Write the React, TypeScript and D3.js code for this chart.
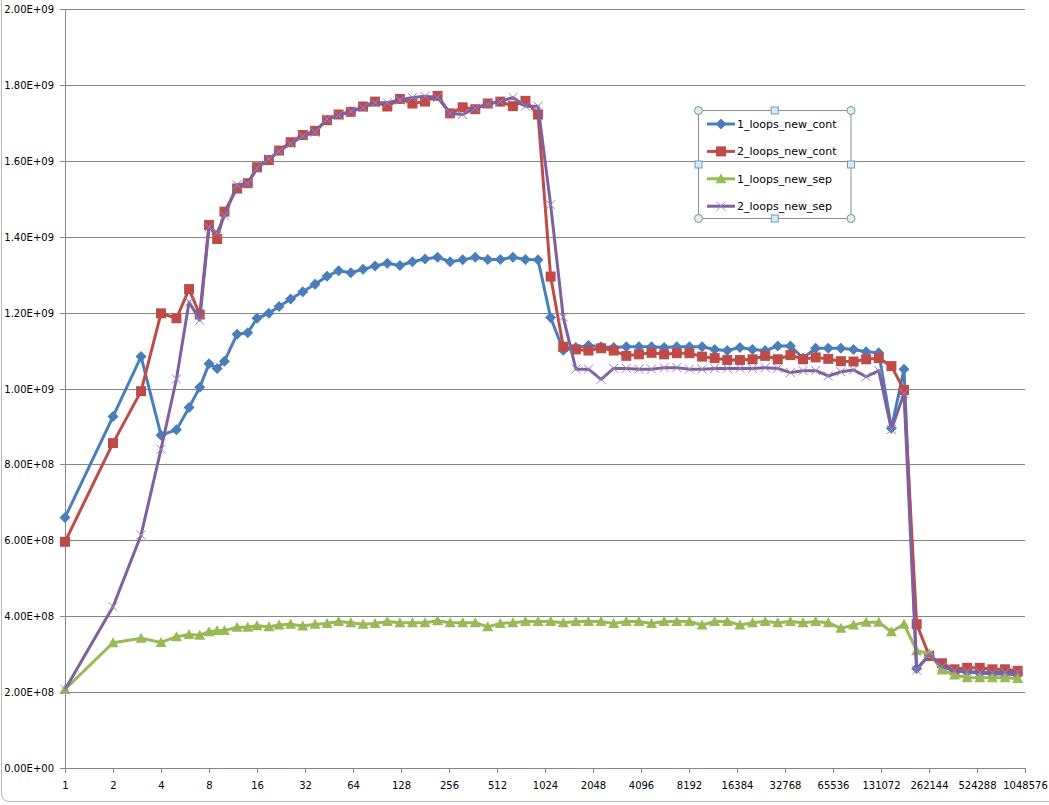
import React, { useRef, useEffect } from "react";
import * as d3 from "d3";

// block sizes (x), each step = max(prev + 1, floor(prev * 1.2))
const sizes = [
  1, 2, 3, 4, 5, 6, 7, 8, 9, 10, 12, 14, 16, 19, 22, 26, 31, 37, 44, 52, 62, 74,
  88, 105, 126, 151, 181, 217, 260, 312, 374, 448, 537, 644, 772, 926, 1111,
  1333, 1599, 1918, 2301, 2761, 3313, 3975, 4770, 5724, 6868, 8241, 9889,
  11866, 14239, 17086, 20503, 24603, 29523, 35427, 42512, 51014, 61216, 73459,
  88150, 105780, 126936, 152323, 182787, 219344, 263212, 315854, 379024,
  454828, 545793, 654951, 785941, 943129,
];

// values in millions
const loops1Cont = [
  660, 926, 1084, 877, 891, 950, 1003, 1065, 1053, 1072, 1143, 1147, 1185,
  1198, 1216, 1236, 1255, 1275, 1296, 1310, 1305, 1314, 1323, 1330, 1324, 1334,
  1341, 1346, 1334, 1339, 1346, 1340, 1340, 1346, 1340, 1339, 1187, 1101, 1108,
  1113, 1110, 1108, 1110, 1110, 1110, 1108, 1110, 1110, 1110, 1103, 1100, 1108,
  1103, 1100, 1112, 1112, 1080, 1106, 1106, 1106, 1103, 1097, 1094, 895, 1051,
  262, 296, 268, 257, 252, 250, 248, 248, 246,
];
const loops2Cont = [
  596, 856, 993, 1198, 1185, 1262, 1195, 1431, 1394, 1466, 1527, 1541, 1583,
  1602, 1627, 1649, 1668, 1679, 1707, 1722, 1729, 1743, 1756, 1743, 1763, 1751,
  1756, 1771, 1725, 1741, 1736, 1751, 1756, 1744, 1758, 1722, 1295, 1110, 1103,
  1100, 1106, 1100, 1086, 1090, 1094, 1090, 1093, 1093, 1084, 1080, 1075, 1075,
  1077, 1086, 1077, 1088, 1077, 1082, 1078, 1072, 1071, 1077, 1080, 1059, 996,
  379, 295, 276, 260, 264, 264, 260, 260, 256,
];
const loops1Sep = [
  207, 330, 342, 331, 346, 352, 350, 359, 362, 362, 371, 371, 375, 372, 377,
  379, 374, 379, 381, 386, 383, 379, 381, 386, 383, 383, 383, 388, 383, 383,
  383, 372, 381, 383, 386, 386, 386, 383, 386, 386, 386, 381, 386, 386, 381,
  386, 386, 386, 377, 386, 386, 377, 383, 386, 383, 386, 383, 386, 383, 368,
  377, 384, 384, 359, 379, 309, 302, 258, 245, 238, 238, 238, 238, 236,
];
const loops2Sep = [
  207, 425, 614, 840, 1025, 1228, 1180, 1425, 1410, 1455, 1537, 1540, 1580,
  1605, 1625, 1645, 1665, 1675, 1710, 1720, 1730, 1740, 1753, 1753, 1760, 1767,
  1770, 1767, 1725, 1722, 1739, 1749, 1756, 1767, 1744, 1744, 1484, 1188, 1051,
  1051, 1024, 1053, 1053, 1051, 1051, 1055, 1055, 1051, 1051, 1053, 1053, 1053,
  1053, 1055, 1053, 1042, 1047, 1047, 1033, 1044, 1049, 1031, 1047, 892, 987,
  258, 300, 267, 256, 254, 252, 252, 252, 252,
];

const seriesNames = [
  "1_loops_new_cont",
  "2_loops_new_cont",
  "1_loops_new_sep",
  "2_loops_new_sep",
];
const xTicks = [
  1, 2, 4, 8, 16, 32, 64, 128, 256, 512, 1024, 2048, 4096, 8192, 16384, 32768,
  65536, 131072, 262144, 524288, 1048576,
];
const yTicks = [0, 2e8, 4e8, 6e8, 8e8, 1e9, 1.2e9, 1.4e9, 1.6e9, 1.8e9, 2e9];

const markerPath = {
  diamond: "M0,-5.5L5.5,0L0,5.5L-5.5,0Z",
  square: "M-5,-5H5V5H-5Z",
  triangle: "M0,-5.5L5.5,4.5L-5.5,4.5Z",
  cross: "M-4.5,-4.5L4.5,4.5M-4.5,4.5L4.5,-4.5",
};

const fmtSci = (v) => {
  if (v === 0) return "0.00E+00";
  const e = Math.floor(Math.log10(v));
  const m = v / Math.pow(10, e);
  return `${m.toFixed(2)}E+${String(e).padStart(2, "0")}`;
};

const App = () => {
  const wrapper = useRef(null);
  const width = 1049;
  const height = 805;

  useEffect(() => {
    const root = d3.select(wrapper.current);
    root.selectAll("*").remove();

    const svg = root
      .append("svg")
      .attr("width", width)
      .attr("height", height)
      .style("display", "block")
      .style("font-family", "'DejaVu Sans', Verdana, sans-serif");

    svg.append("rect").attr("width", width).attr("height", height).attr("fill", "#fff");

    // chart area border (left + bottom, rounded corner)
    svg
      .append("path")
      .attr("d", "M1.5,-5V793Q1.5,801.5 10,801.5H1060")
      .attr("fill", "none")
      .attr("stroke", "#b8b8b8");

    const x = d3.scaleLog().base(2).domain([1, 1048576]).range([65, 1025]);
    const y = d3.scaleLinear().domain([0, 2e9]).range([768, 9]);

    // gridlines + y labels
    const gy = svg.append("g");
    yTicks.forEach((t) => {
      const yy = Math.round(y(t)) + 0.5;
      gy.append("line")
        .attr("x1", 60)
        .attr("x2", 1025)
        .attr("y1", yy)
        .attr("y2", yy)
        .attr("stroke", "#868686");
      gy.append("text")
        .attr("x", 54)
        .attr("y", yy)
        .attr("dy", "0.35em")
        .attr("text-anchor", "end")
        .attr("font-size", 10)
        .attr("fill", "#000")
        .text(fmtSci(t));
    });

    // y axis line
    svg
      .append("line")
      .attr("x1", 65.5)
      .attr("x2", 65.5)
      .attr("y1", Math.round(y(2e9)))
      .attr("y2", Math.round(y(0)) + 1)
      .attr("stroke", "#868686");

    // x ticks + labels
    const gx = svg.append("g");
    xTicks.forEach((t) => {
      const xx = Math.round(x(t)) + 0.5;
      gx.append("line")
        .attr("x1", xx)
        .attr("x2", xx)
        .attr("y1", 768)
        .attr("y2", 773)
        .attr("stroke", "#868686");
      gx.append("text")
        .attr("x", xx)
        .attr("y", 789)
        .attr("text-anchor", "middle")
        .attr("font-size", 10)
        .attr("fill", "#000")
        .text(t);
    });

    const series = [
      { values: loops1Cont, color: "#4a7ebb", marker: "diamond" },
      { values: loops2Cont, color: "#be4b48", marker: "square" },
      { values: loops1Sep, color: "#98b954", marker: "triangle" },
      { values: loops2Sep, color: "#7d60a0", marker: "cross" },
    ];

    const line = d3
      .line()
      .x((d) => x(d[0]))
      .y((d) => y(d[1] * 1e6));

    series.forEach((s) => {
      const pts = sizes.map((sz, i) => [sz, s.values[i]]);
      const g = svg.append("g");
      g.append("path")
        .attr("d", line(pts))
        .attr("fill", "none")
        .attr("stroke", s.color)
        .attr("stroke-width", 3)
        .attr("stroke-linejoin", "round");
      g.selectAll("path.m")
        .data(pts)
        .enter()
        .append("path")
        .attr("class", "m")
        .attr("d", markerPath[s.marker])
        .attr("transform", (d) => `translate(${x(d[0])},${y(d[1] * 1e6)})`)
        .attr("fill", s.marker === "cross" ? "none" : s.color)
        .attr("stroke", s.marker === "cross" ? "#9a84bd" : "none")
        .attr("stroke-width", 1);
    });

    // legend
    const lg = svg.append("g");
    const lx0 = 698.5;
    const ly0 = 110.5;
    const lw = 152.5;
    const lh = 108;
    lg.append("rect")
      .attr("x", lx0)
      .attr("y", ly0)
      .attr("width", lw)
      .attr("height", lh)
      .attr("fill", "none")
      .attr("stroke", "#8c8c8c");

    series.forEach((s, i) => {
      const yy = 124 + i * 27.4;
      lg.append("line")
        .attr("x1", 707)
        .attr("x2", 735)
        .attr("y1", yy)
        .attr("y2", yy)
        .attr("stroke", s.color)
        .attr("stroke-width", 3);
      lg.append("path")
        .attr("d", markerPath[s.marker])
        .attr("transform", `translate(721,${yy})`)
        .attr("fill", s.marker === "cross" ? "none" : s.color)
        .attr("stroke", s.marker === "cross" ? "#9a84bd" : "none");
      lg.append("text")
        .attr("x", 737)
        .attr("y", yy)
        .attr("dy", "0.35em")
        .attr("font-size", 11)
        .attr("fill", "#000")
        .text(seriesNames[i]);
    });

    // selection handles
    const corners = [
      [lx0, ly0],
      [lx0 + lw, ly0],
      [lx0, ly0 + lh],
      [lx0 + lw, ly0 + lh],
    ];
    const mids = [
      [lx0 + lw / 2, ly0],
      [lx0 + lw / 2, ly0 + lh],
      [lx0, ly0 + lh / 2],
      [lx0 + lw, ly0 + lh / 2],
    ];
    corners.forEach(([cx, cy]) => {
      lg.append("circle")
        .attr("cx", cx)
        .attr("cy", cy)
        .attr("r", 4)
        .attr("fill", "#dcf0f4")
        .attr("stroke", "#7f8f99");
    });
    mids.forEach(([cx, cy]) => {
      lg.append("rect")
        .attr("x", cx - 3.5)
        .attr("y", cy - 3.5)
        .attr("width", 7)
        .attr("height", 7)
        .attr("fill", "#d4eaf5")
        .attr("stroke", "#6f9cc2");
    });
  }, [wrapper]);

  return (
    <div
      ref={wrapper}
      style={{ position: "absolute", left: 0, top: 0, width: width, height: height }}
    />
  );
};

export default App;
